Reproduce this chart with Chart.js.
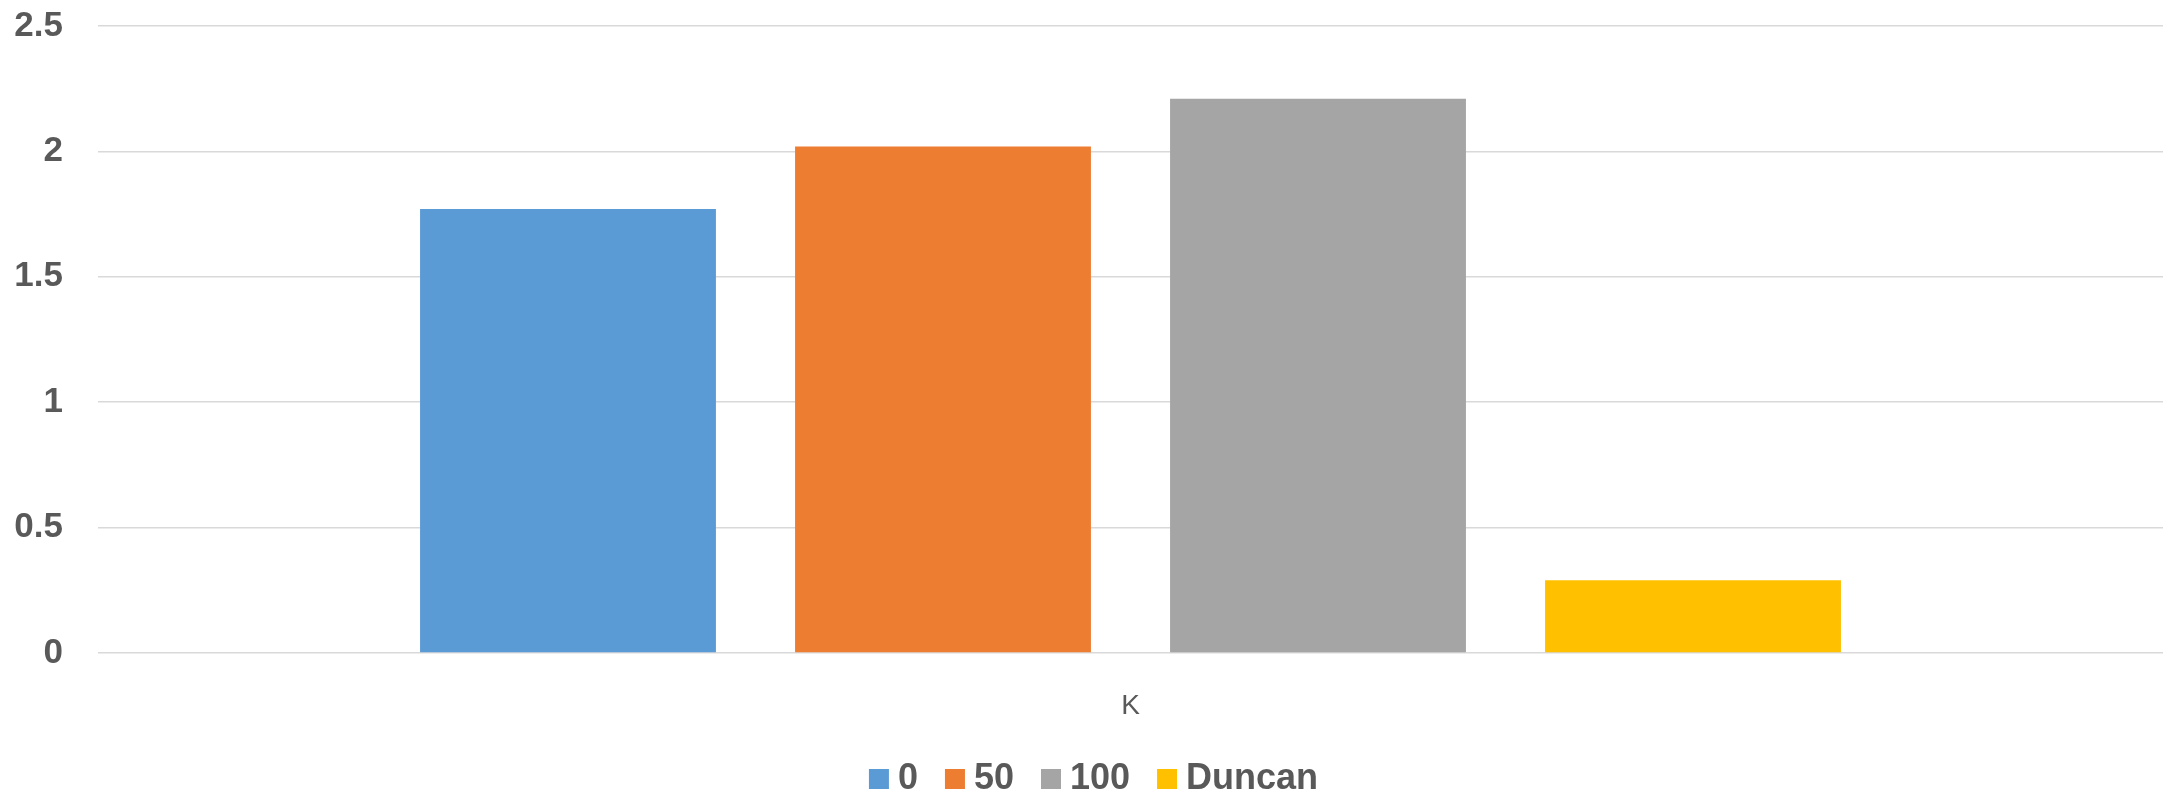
<!DOCTYPE html>
<html>
<head>
<meta charset="utf-8">
<script src="https://cdn.jsdelivr.net/npm/chart.js@4"></script>
<style>
  html, body { margin: 0; padding: 0; background: #fff; }
  #wrap { width: 2165px; height: 796px; }
</style>
</head>
<body>
<div id="wrap"><canvas id="kChart"></canvas></div>
<script>
const categories = ['K'];
const seriesNames = ['0', '50', '100', 'Duncan'];
const seriesValues = [[1.77], [2.02], [2.21], [0.29]];
const seriesColors = ['#5B9BD5', '#ED7D31', '#A5A5A5', '#FFC000'];
const yTicks = [0, 0.5, 1, 1.5, 2, 2.5];

const textColor = '#595959';
const fontFamily = '"Liberation Sans", Arial, sans-serif';

const datasets = seriesNames.map((name, i) => ({
  label: name,
  data: seriesValues[i],
  backgroundColor: seriesColors[i],
  borderWidth: 0,
  categoryPercentage: 0.7264,
  barPercentage: 0.789
}));

// nudge the legend row a little right of the canvas centre
const legendShift = {
  id: 'legendShift',
  afterLayout(chart) {
    if (chart.legend) chart.legend.left += 33;
  }
};

const ctx = document.getElementById('kChart').getContext('2d');
const kChart = new Chart(ctx, {
  type: 'bar',
  data: { labels: categories, datasets: datasets },
  plugins: [legendShift],
  options: {
    responsive: true,
    maintainAspectRatio: false,
    animation: false,
    layout: { padding: { top: 26, right: 2, bottom: -11, left: 0 } },
    plugins: {
      tooltip: { enabled: false },
      legend: {
        position: 'bottom',
        labels: {
          usePointStyle: true,
          pointStyle: 'rect',
          boxWidth: 2,
          boxHeight: 20,
          padding: 36,
          color: textColor,
          font: { family: fontFamily, size: 36, weight: 'bold' }
        }
      }
    },
    scales: {
      x: {
        grid: { display: false, drawTicks: false },
        border: { display: false },
        ticks: {
          color: textColor,
          padding: 36,
          font: { family: fontFamily, size: 28 }
        },
        afterFit: scale => { scale.height = 72; }
      },
      y: {
        min: 0,
        max: 2.5,
        grid: { color: '#D9D9D9', lineWidth: 1.5, drawTicks: false },
        border: { display: false },
        ticks: {
          color: textColor,
          padding: 35,
          font: { family: fontFamily, size: 35, weight: 'bold' },
          callback: value => String(value)
        },
        afterBuildTicks: axis => { axis.ticks = yTicks.map(v => ({ value: v })); },
        afterFit: scale => {
          scale.width = 98;
          scale.paddingTop = 0;
          scale.paddingBottom = 0;
        }
      }
    }
  }
});
</script>
</body>
</html>
